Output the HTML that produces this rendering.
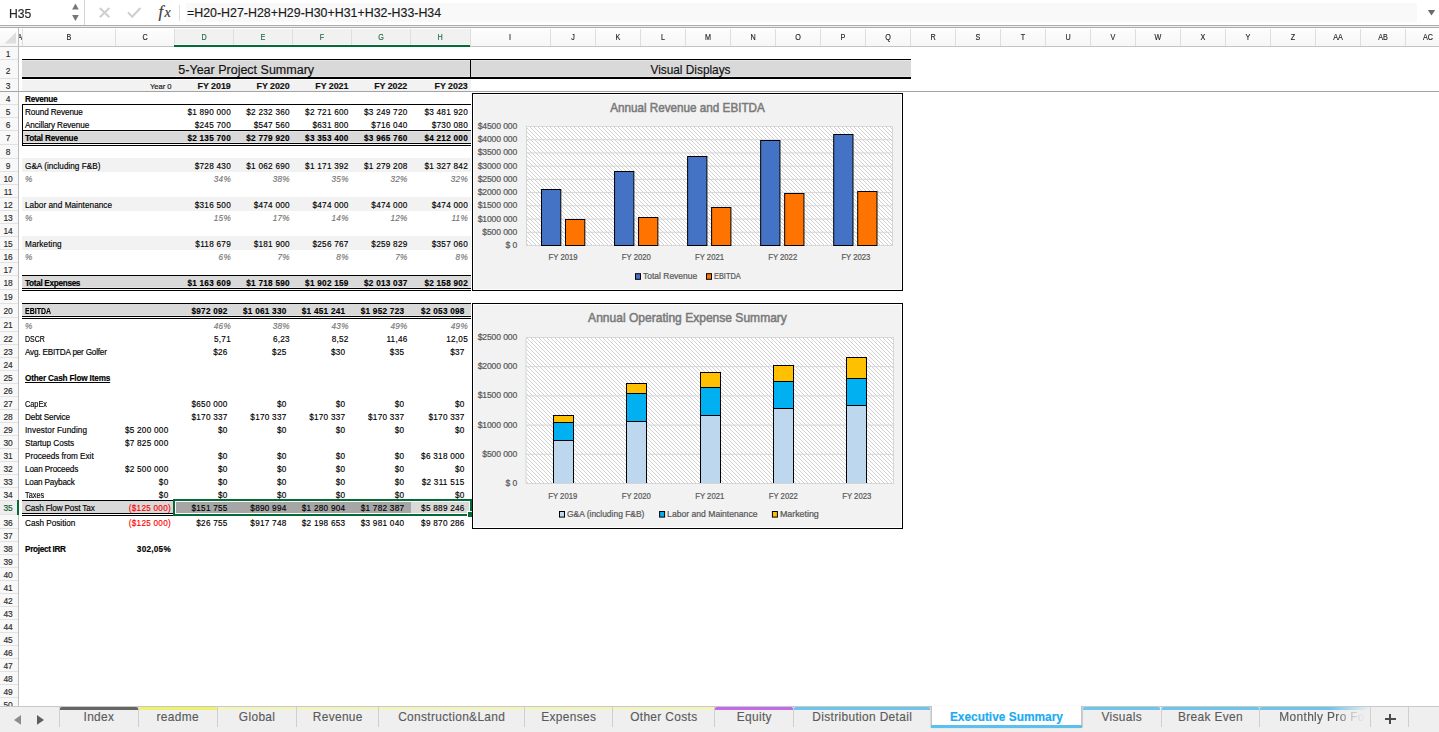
<!DOCTYPE html>
<html><head><meta charset="utf-8"><title>Executive Summary</title>
<style>
html,body{margin:0;padding:0;width:1439px;height:732px;overflow:hidden;background:#fff;}
body{position:relative;font-family:"Liberation Sans",sans-serif;color:#000;}
.a{position:absolute;}
.t,.u{position:absolute;white-space:nowrap;line-height:1;}
.t{-webkit-text-stroke:0.15px currentColor;}
svg text{font-family:"Liberation Sans",sans-serif;}
</style></head><body>
<div class="a" style="left:0px;top:0px;width:1439px;height:25px;background:#ffffff;"></div>
<div class="a" style="left:186px;top:3px;width:1231px;height:19px;background:#f9f9f9;"></div>
<div class="t" style="top:8px;font-size:12.8px;left:8.7px;color:#262626;transform:scaleX(0.95);transform-origin:0 0;">H35</div>
<svg class="a" style="left:70px;top:3px" width="12" height="18"><path d="M2.1 6.5 L5.45 0.6 L8.8 6.5 Z" fill="#777"/><path d="M2.1 11.9 L5.45 18.0 L8.8 11.9 Z" fill="#777"/></svg>
<div class="a" style="left:83.8px;top:0px;width:1px;height:25px;background:#d4d4d4;"></div>
<svg class="a" style="left:96px;top:4px" width="50" height="18"><path d="M3.8 4 L13.4 13.2 M13.4 4 L3.8 13.2" stroke="#cfcfcf" stroke-width="2" fill="none"/><path d="M32 8.4 L36.2 12.8 L44.4 4.0" stroke="#cfcfcf" stroke-width="2.1" fill="none"/></svg>
<svg class="a" style="left:150px;top:0px" width="30" height="25"><text x="8.6" y="17.2" style="font-family:'Liberation Serif',serif;font-style:italic" font-size="16.5" fill="#3c3c3c" stroke="#3c3c3c" stroke-width="0.2">f</text><text x="14.6" y="17.2" style="font-family:'Liberation Serif',serif;font-style:italic" font-size="14.2" fill="#3c3c3c" stroke="#3c3c3c" stroke-width="0.2">x</text></svg>
<div class="a" style="left:179.3px;top:5px;width:0.9px;height:16px;background:#dedede;"></div>
<div class="t" style="top:7px;font-size:12.4px;left:187px;color:#1a1a1a;">=H20-H27-H28+H29-H30+H31+H32-H33-H34</div>
<svg class="a" style="left:1426px;top:9px" width="11" height="8"><path d="M1.8 1 L9.2 1 L5.5 6.6 Z" fill="#6a6a6a"/></svg>
<div class="a" style="left:0px;top:25px;width:1439px;height:1px;background:#acacac;"></div>
<div class="a" style="left:0px;top:26px;width:1439px;height:1px;background:#efefef;"></div>
<div class="a" style="left:0px;top:27px;width:1439px;height:1px;background:#acacac;"></div>
<div class="a" style="left:0px;top:28px;width:1439px;height:18.5px;background:linear-gradient(#ffffff 0,#fdfdfd 1px,#f6f6f6);"></div>
<div class="a" style="left:174.2px;top:29px;width:296.2px;height:15px;background:#f1f1f1;"></div>
<div class="a" style="left:174.2px;top:44px;width:296.2px;height:1px;background:#fdfbfd;"></div>
<svg class="a" style="left:0;top:28px" width="18" height="18"><path d="M16 4.2 L16 15.6 L4.6 15.6 Z" fill="#dedede"/></svg>
<div class="a" style="left:18.2px;top:27.8px;width:0.9px;height:678.2px;background:#bdbdbd;"></div>
<div class="a" style="left:21.9px;top:28.5px;width:0.9px;height:17px;background:#dedede;"></div>
<div class="a" style="left:114.9px;top:28.5px;width:0.9px;height:17px;background:#dedede;"></div>
<div class="a" style="left:173.7px;top:28.5px;width:0.9px;height:17px;background:#dedede;"></div>
<div class="a" style="left:232.9px;top:28.5px;width:0.9px;height:17px;background:#dedede;"></div>
<div class="a" style="left:291.8px;top:28.5px;width:0.9px;height:17px;background:#dedede;"></div>
<div class="a" style="left:350.6px;top:28.5px;width:0.9px;height:17px;background:#dedede;"></div>
<div class="a" style="left:409.5px;top:28.5px;width:0.9px;height:17px;background:#dedede;"></div>
<div class="a" style="left:469.9px;top:28.5px;width:0.9px;height:17px;background:#dedede;"></div>
<div class="a" style="left:549.8px;top:28.5px;width:0.9px;height:17px;background:#dedede;"></div>
<div class="a" style="left:594.8px;top:28.5px;width:0.9px;height:17px;background:#dedede;"></div>
<div class="a" style="left:639.8px;top:28.5px;width:0.9px;height:17px;background:#dedede;"></div>
<div class="a" style="left:684.8px;top:28.5px;width:0.9px;height:17px;background:#dedede;"></div>
<div class="a" style="left:729.8px;top:28.5px;width:0.9px;height:17px;background:#dedede;"></div>
<div class="a" style="left:774.8px;top:28.5px;width:0.9px;height:17px;background:#dedede;"></div>
<div class="a" style="left:819.8px;top:28.5px;width:0.9px;height:17px;background:#dedede;"></div>
<div class="a" style="left:864.8px;top:28.5px;width:0.9px;height:17px;background:#dedede;"></div>
<div class="a" style="left:909.8px;top:28.5px;width:0.9px;height:17px;background:#dedede;"></div>
<div class="a" style="left:954.8px;top:28.5px;width:0.9px;height:17px;background:#dedede;"></div>
<div class="a" style="left:999.8px;top:28.5px;width:0.9px;height:17px;background:#dedede;"></div>
<div class="a" style="left:1044.8px;top:28.5px;width:0.9px;height:17px;background:#dedede;"></div>
<div class="a" style="left:1089.8px;top:28.5px;width:0.9px;height:17px;background:#dedede;"></div>
<div class="a" style="left:1134.8px;top:28.5px;width:0.9px;height:17px;background:#dedede;"></div>
<div class="a" style="left:1179.8px;top:28.5px;width:0.9px;height:17px;background:#dedede;"></div>
<div class="a" style="left:1224.8px;top:28.5px;width:0.9px;height:17px;background:#dedede;"></div>
<div class="a" style="left:1269.8px;top:28.5px;width:0.9px;height:17px;background:#dedede;"></div>
<div class="a" style="left:1314.8px;top:28.5px;width:0.9px;height:17px;background:#dedede;"></div>
<div class="a" style="left:1359.8px;top:28.5px;width:0.9px;height:17px;background:#dedede;"></div>
<div class="a" style="left:1404.8px;top:28.5px;width:0.9px;height:17px;background:#dedede;"></div>
<div class="a" style="left:19px;top:45.6px;width:1420px;height:1px;background:#c4c4c4;"></div>
<div class="a" style="left:0px;top:45.6px;width:18.5px;height:1px;background:#c4c4c4;"></div>
<div class="a" style="left:174.2px;top:45px;width:296.2px;height:2px;background:#056b35;"></div>
<div class="a" style="left:19.1px;top:28px;width:3.3px;height:17px;overflow:hidden;"><div class="t" style="left:-2.6px;top:5px;font-size:8.4px;color:#1e1e1e;transform:scaleX(0.86);">A</div></div>
<div class="t" style="top:33px;font-size:8.4px;left:-331.1px;width:800px;text-align:center;color:#1e1e1e;transform:scaleX(0.86);">B</div>
<div class="t" style="top:33px;font-size:8.4px;left:-255.2px;width:800px;text-align:center;color:#1e1e1e;transform:scaleX(0.86);">C</div>
<div class="t" style="top:33px;font-size:8.4px;left:-196.2px;width:800px;text-align:center;color:#1d6a3e;transform:scaleX(0.86);">D</div>
<div class="t" style="top:33px;font-size:8.4px;left:-137.15px;width:800px;text-align:center;color:#1d6a3e;transform:scaleX(0.86);">E</div>
<div class="t" style="top:33px;font-size:8.4px;left:-78.3px;width:800px;text-align:center;color:#1d6a3e;transform:scaleX(0.86);">F</div>
<div class="t" style="top:33px;font-size:8.4px;left:-19.45px;width:800px;text-align:center;color:#1d6a3e;transform:scaleX(0.86);">G</div>
<div class="t" style="top:33px;font-size:8.4px;left:40.2px;width:800px;text-align:center;color:#1d6a3e;transform:scaleX(0.86);">H</div>
<div class="t" style="top:33px;font-size:8.4px;left:110.35px;width:800px;text-align:center;color:#1e1e1e;transform:scaleX(0.86);">I</div>
<div class="t" style="top:33px;font-size:8.4px;left:172.8px;width:800px;text-align:center;color:#1e1e1e;transform:scaleX(0.86);">J</div>
<div class="t" style="top:33px;font-size:8.4px;left:217.8px;width:800px;text-align:center;color:#1e1e1e;transform:scaleX(0.86);">K</div>
<div class="t" style="top:33px;font-size:8.4px;left:262.8px;width:800px;text-align:center;color:#1e1e1e;transform:scaleX(0.86);">L</div>
<div class="t" style="top:33px;font-size:8.4px;left:307.8px;width:800px;text-align:center;color:#1e1e1e;transform:scaleX(0.86);">M</div>
<div class="t" style="top:33px;font-size:8.4px;left:352.8px;width:800px;text-align:center;color:#1e1e1e;transform:scaleX(0.86);">N</div>
<div class="t" style="top:33px;font-size:8.4px;left:397.8px;width:800px;text-align:center;color:#1e1e1e;transform:scaleX(0.86);">O</div>
<div class="t" style="top:33px;font-size:8.4px;left:442.8px;width:800px;text-align:center;color:#1e1e1e;transform:scaleX(0.86);">P</div>
<div class="t" style="top:33px;font-size:8.4px;left:487.8px;width:800px;text-align:center;color:#1e1e1e;transform:scaleX(0.86);">Q</div>
<div class="t" style="top:33px;font-size:8.4px;left:532.8px;width:800px;text-align:center;color:#1e1e1e;transform:scaleX(0.86);">R</div>
<div class="t" style="top:33px;font-size:8.4px;left:577.8px;width:800px;text-align:center;color:#1e1e1e;transform:scaleX(0.86);">S</div>
<div class="t" style="top:33px;font-size:8.4px;left:622.8px;width:800px;text-align:center;color:#1e1e1e;transform:scaleX(0.86);">T</div>
<div class="t" style="top:33px;font-size:8.4px;left:667.8px;width:800px;text-align:center;color:#1e1e1e;transform:scaleX(0.86);">U</div>
<div class="t" style="top:33px;font-size:8.4px;left:712.8px;width:800px;text-align:center;color:#1e1e1e;transform:scaleX(0.86);">V</div>
<div class="t" style="top:33px;font-size:8.4px;left:757.8px;width:800px;text-align:center;color:#1e1e1e;transform:scaleX(0.86);">W</div>
<div class="t" style="top:33px;font-size:8.4px;left:802.8px;width:800px;text-align:center;color:#1e1e1e;transform:scaleX(0.86);">X</div>
<div class="t" style="top:33px;font-size:8.4px;left:847.8px;width:800px;text-align:center;color:#1e1e1e;transform:scaleX(0.86);">Y</div>
<div class="t" style="top:33px;font-size:8.4px;left:892.8px;width:800px;text-align:center;color:#1e1e1e;transform:scaleX(0.86);">Z</div>
<div class="t" style="top:33px;font-size:8.4px;left:937.8px;width:800px;text-align:center;color:#1e1e1e;transform:scaleX(0.86);">AA</div>
<div class="t" style="top:33px;font-size:8.4px;left:982.8px;width:800px;text-align:center;color:#1e1e1e;transform:scaleX(0.86);">AB</div>
<div class="t" style="top:33px;font-size:8.4px;left:1027.8px;width:800px;text-align:center;color:#1e1e1e;transform:scaleX(0.86);">AC</div>
<div class="a" style="left:0px;top:46.6px;width:18.2px;height:659.4px;background:#f8f8f8;"></div>
<div class="a" style="left:0px;top:500.1px;width:18.2px;height:14.6px;background:#eeeeee;"></div>
<div class="a" style="left:0px;top:59.1px;width:18.2px;height:0.9px;background:#e2e2e2;"></div>
<div class="a" style="left:0px;top:77.9px;width:18.2px;height:0.9px;background:#e2e2e2;"></div>
<div class="a" style="left:0px;top:91px;width:18.2px;height:0.9px;background:#e2e2e2;"></div>
<div class="a" style="left:0px;top:104.1px;width:18.2px;height:0.9px;background:#e2e2e2;"></div>
<div class="a" style="left:0px;top:117.3px;width:18.2px;height:0.9px;background:#e2e2e2;"></div>
<div class="a" style="left:0px;top:130.1px;width:18.2px;height:0.9px;background:#e2e2e2;"></div>
<div class="a" style="left:0px;top:143.9px;width:18.2px;height:0.9px;background:#e2e2e2;"></div>
<div class="a" style="left:0px;top:157.9px;width:18.2px;height:0.9px;background:#e2e2e2;"></div>
<div class="a" style="left:0px;top:171.1px;width:18.2px;height:0.9px;background:#e2e2e2;"></div>
<div class="a" style="left:0px;top:184.2px;width:18.2px;height:0.9px;background:#e2e2e2;"></div>
<div class="a" style="left:0px;top:197px;width:18.2px;height:0.9px;background:#e2e2e2;"></div>
<div class="a" style="left:0px;top:210.1px;width:18.2px;height:0.9px;background:#e2e2e2;"></div>
<div class="a" style="left:0px;top:223.2px;width:18.2px;height:0.9px;background:#e2e2e2;"></div>
<div class="a" style="left:0px;top:235.9px;width:18.2px;height:0.9px;background:#e2e2e2;"></div>
<div class="a" style="left:0px;top:249px;width:18.2px;height:0.9px;background:#e2e2e2;"></div>
<div class="a" style="left:0px;top:261.8px;width:18.2px;height:0.9px;background:#e2e2e2;"></div>
<div class="a" style="left:0px;top:274.9px;width:18.2px;height:0.9px;background:#e2e2e2;"></div>
<div class="a" style="left:0px;top:288.8px;width:18.2px;height:0.9px;background:#e2e2e2;"></div>
<div class="a" style="left:0px;top:302.8px;width:18.2px;height:0.9px;background:#e2e2e2;"></div>
<div class="a" style="left:0px;top:316.7px;width:18.2px;height:0.9px;background:#e2e2e2;"></div>
<div class="a" style="left:0px;top:330.6px;width:18.2px;height:0.9px;background:#e2e2e2;"></div>
<div class="a" style="left:0px;top:343.8px;width:18.2px;height:0.9px;background:#e2e2e2;"></div>
<div class="a" style="left:0px;top:357px;width:18.2px;height:0.9px;background:#e2e2e2;"></div>
<div class="a" style="left:0px;top:369.7px;width:18.2px;height:0.9px;background:#e2e2e2;"></div>
<div class="a" style="left:0px;top:382.8px;width:18.2px;height:0.9px;background:#e2e2e2;"></div>
<div class="a" style="left:0px;top:395.9px;width:18.2px;height:0.9px;background:#e2e2e2;"></div>
<div class="a" style="left:0px;top:409px;width:18.2px;height:0.9px;background:#e2e2e2;"></div>
<div class="a" style="left:0px;top:421.7px;width:18.2px;height:0.9px;background:#e2e2e2;"></div>
<div class="a" style="left:0px;top:435px;width:18.2px;height:0.9px;background:#e2e2e2;"></div>
<div class="a" style="left:0px;top:447.9px;width:18.2px;height:0.9px;background:#e2e2e2;"></div>
<div class="a" style="left:0px;top:460.9px;width:18.2px;height:0.9px;background:#e2e2e2;"></div>
<div class="a" style="left:0px;top:474px;width:18.2px;height:0.9px;background:#e2e2e2;"></div>
<div class="a" style="left:0px;top:486.9px;width:18.2px;height:0.9px;background:#e2e2e2;"></div>
<div class="a" style="left:0px;top:499.6px;width:18.2px;height:0.9px;background:#e2e2e2;"></div>
<div class="a" style="left:0px;top:514.2px;width:18.2px;height:0.9px;background:#e2e2e2;"></div>
<div class="a" style="left:0px;top:528.3px;width:18.2px;height:0.9px;background:#e2e2e2;"></div>
<div class="a" style="left:0px;top:541px;width:18.2px;height:0.9px;background:#e2e2e2;"></div>
<div class="a" style="left:0px;top:554px;width:18.2px;height:0.9px;background:#e2e2e2;"></div>
<div class="a" style="left:0px;top:566.9px;width:18.2px;height:0.9px;background:#e2e2e2;"></div>
<div class="a" style="left:0px;top:580px;width:18.2px;height:0.9px;background:#e2e2e2;"></div>
<div class="a" style="left:0px;top:592.8px;width:18.2px;height:0.9px;background:#e2e2e2;"></div>
<div class="a" style="left:0px;top:605.9px;width:18.2px;height:0.9px;background:#e2e2e2;"></div>
<div class="a" style="left:0px;top:619px;width:18.2px;height:0.9px;background:#e2e2e2;"></div>
<div class="a" style="left:0px;top:631.9px;width:18.2px;height:0.9px;background:#e2e2e2;"></div>
<div class="a" style="left:0px;top:644.7px;width:18.2px;height:0.9px;background:#e2e2e2;"></div>
<div class="a" style="left:0px;top:657.9px;width:18.2px;height:0.9px;background:#e2e2e2;"></div>
<div class="a" style="left:0px;top:670.8px;width:18.2px;height:0.9px;background:#e2e2e2;"></div>
<div class="a" style="left:0px;top:683.7px;width:18.2px;height:0.9px;background:#e2e2e2;"></div>
<div class="a" style="left:0px;top:696.8px;width:18.2px;height:0.9px;background:#e2e2e2;"></div>
<div class="t" style="top:50px;font-size:8.4px;left:-391.9px;width:800px;text-align:center;color:#2b2b2b;">1</div>
<div class="t" style="top:67px;font-size:8.4px;left:-391.9px;width:800px;text-align:center;color:#2b2b2b;">2</div>
<div class="t" style="top:82px;font-size:8.4px;left:-391.9px;width:800px;text-align:center;color:#2b2b2b;">3</div>
<div class="t" style="top:95px;font-size:8.4px;left:-391.9px;width:800px;text-align:center;color:#2b2b2b;">4</div>
<div class="t" style="top:108px;font-size:8.4px;left:-391.9px;width:800px;text-align:center;color:#2b2b2b;">5</div>
<div class="t" style="top:121px;font-size:8.4px;left:-391.9px;width:800px;text-align:center;color:#2b2b2b;">6</div>
<div class="t" style="top:134px;font-size:8.4px;left:-391.9px;width:800px;text-align:center;color:#2b2b2b;">7</div>
<div class="t" style="top:148px;font-size:8.4px;left:-391.9px;width:800px;text-align:center;color:#2b2b2b;">8</div>
<div class="t" style="top:162px;font-size:8.4px;left:-391.9px;width:800px;text-align:center;color:#2b2b2b;">9</div>
<div class="t" style="top:175px;font-size:8.4px;left:-391.9px;width:800px;text-align:center;color:#2b2b2b;">10</div>
<div class="t" style="top:188px;font-size:8.4px;left:-391.9px;width:800px;text-align:center;color:#2b2b2b;">11</div>
<div class="t" style="top:201px;font-size:8.4px;left:-391.9px;width:800px;text-align:center;color:#2b2b2b;">12</div>
<div class="t" style="top:214px;font-size:8.4px;left:-391.9px;width:800px;text-align:center;color:#2b2b2b;">13</div>
<div class="t" style="top:227px;font-size:8.4px;left:-391.9px;width:800px;text-align:center;color:#2b2b2b;">14</div>
<div class="t" style="top:240px;font-size:8.4px;left:-391.9px;width:800px;text-align:center;color:#2b2b2b;">15</div>
<div class="t" style="top:253px;font-size:8.4px;left:-391.9px;width:800px;text-align:center;color:#2b2b2b;">16</div>
<div class="t" style="top:266px;font-size:8.4px;left:-391.9px;width:800px;text-align:center;color:#2b2b2b;">17</div>
<div class="t" style="top:279px;font-size:8.4px;left:-391.9px;width:800px;text-align:center;color:#2b2b2b;">18</div>
<div class="t" style="top:293px;font-size:8.4px;left:-391.9px;width:800px;text-align:center;color:#2b2b2b;">19</div>
<div class="t" style="top:307px;font-size:8.4px;left:-391.9px;width:800px;text-align:center;color:#2b2b2b;">20</div>
<div class="t" style="top:321px;font-size:8.4px;left:-391.9px;width:800px;text-align:center;color:#2b2b2b;">21</div>
<div class="t" style="top:335px;font-size:8.4px;left:-391.9px;width:800px;text-align:center;color:#2b2b2b;">22</div>
<div class="t" style="top:348px;font-size:8.4px;left:-391.9px;width:800px;text-align:center;color:#2b2b2b;">23</div>
<div class="t" style="top:361px;font-size:8.4px;left:-391.9px;width:800px;text-align:center;color:#2b2b2b;">24</div>
<div class="t" style="top:374px;font-size:8.4px;left:-391.9px;width:800px;text-align:center;color:#2b2b2b;">25</div>
<div class="t" style="top:387px;font-size:8.4px;left:-391.9px;width:800px;text-align:center;color:#2b2b2b;">26</div>
<div class="t" style="top:400px;font-size:8.4px;left:-391.9px;width:800px;text-align:center;color:#2b2b2b;">27</div>
<div class="t" style="top:413px;font-size:8.4px;left:-391.9px;width:800px;text-align:center;color:#2b2b2b;">28</div>
<div class="t" style="top:426px;font-size:8.4px;left:-391.9px;width:800px;text-align:center;color:#2b2b2b;">29</div>
<div class="t" style="top:439px;font-size:8.4px;left:-391.9px;width:800px;text-align:center;color:#2b2b2b;">30</div>
<div class="t" style="top:452px;font-size:8.4px;left:-391.9px;width:800px;text-align:center;color:#2b2b2b;">31</div>
<div class="t" style="top:465px;font-size:8.4px;left:-391.9px;width:800px;text-align:center;color:#2b2b2b;">32</div>
<div class="t" style="top:478px;font-size:8.4px;left:-391.9px;width:800px;text-align:center;color:#2b2b2b;">33</div>
<div class="t" style="top:491px;font-size:8.4px;left:-391.9px;width:800px;text-align:center;color:#2b2b2b;">34</div>
<div class="t" style="top:504px;font-size:8.4px;left:-391.9px;width:800px;text-align:center;color:#0d5c30;">35</div>
<div class="t" style="top:519px;font-size:8.4px;left:-391.9px;width:800px;text-align:center;color:#2b2b2b;">36</div>
<div class="t" style="top:532px;font-size:8.4px;left:-391.9px;width:800px;text-align:center;color:#2b2b2b;">37</div>
<div class="t" style="top:545px;font-size:8.4px;left:-391.9px;width:800px;text-align:center;color:#2b2b2b;">38</div>
<div class="t" style="top:558px;font-size:8.4px;left:-391.9px;width:800px;text-align:center;color:#2b2b2b;">39</div>
<div class="t" style="top:571px;font-size:8.4px;left:-391.9px;width:800px;text-align:center;color:#2b2b2b;">40</div>
<div class="t" style="top:584px;font-size:8.4px;left:-391.9px;width:800px;text-align:center;color:#2b2b2b;">41</div>
<div class="t" style="top:597px;font-size:8.4px;left:-391.9px;width:800px;text-align:center;color:#2b2b2b;">42</div>
<div class="t" style="top:610px;font-size:8.4px;left:-391.9px;width:800px;text-align:center;color:#2b2b2b;">43</div>
<div class="t" style="top:623px;font-size:8.4px;left:-391.9px;width:800px;text-align:center;color:#2b2b2b;">44</div>
<div class="t" style="top:636px;font-size:8.4px;left:-391.9px;width:800px;text-align:center;color:#2b2b2b;">45</div>
<div class="t" style="top:649px;font-size:8.4px;left:-391.9px;width:800px;text-align:center;color:#2b2b2b;">46</div>
<div class="t" style="top:662px;font-size:8.4px;left:-391.9px;width:800px;text-align:center;color:#2b2b2b;">47</div>
<div class="t" style="top:675px;font-size:8.4px;left:-391.9px;width:800px;text-align:center;color:#2b2b2b;">48</div>
<div class="t" style="top:688px;font-size:8.4px;left:-391.9px;width:800px;text-align:center;color:#2b2b2b;">49</div>
<div class="t" style="top:701px;font-size:8.4px;left:-391.9px;width:800px;text-align:center;color:#2b2b2b;">50</div>
<div class="a" style="left:17px;top:500px;width:2px;height:15px;background:#056b35;"></div>
<div class="a" style="left:22px;top:60px;width:449px;height:17px;background:#d9d9d9;"></div>
<div class="a" style="left:22px;top:60px;width:449px;height:1px;background:#e6e6e6;"></div>
<div class="a" style="left:22px;top:76px;width:449px;height:1px;background:#e6e6e6;"></div>
<div class="a" style="left:470px;top:60px;width:441.1px;height:17px;background:#d9d9d9;"></div>
<div class="a" style="left:470px;top:60px;width:441.1px;height:1px;background:#e6e6e6;"></div>
<div class="a" style="left:470px;top:76px;width:441.1px;height:1px;background:#e6e6e6;"></div>
<div class="a" style="left:22px;top:80px;width:448.6px;height:11px;background:#f2f2f2;"></div>
<div class="a" style="left:22px;top:131px;width:449px;height:12px;background:#d9d9d9;"></div>
<div class="a" style="left:22px;top:131px;width:449px;height:1px;background:#e4e4e4;"></div>
<div class="a" style="left:22px;top:142px;width:449px;height:1px;background:#e4e4e4;"></div>
<div class="a" style="left:22px;top:158px;width:448.6px;height:14px;background:#f2f2f2;"></div>
<div class="a" style="left:22px;top:197px;width:448.6px;height:14px;background:#f2f2f2;"></div>
<div class="a" style="left:22px;top:236px;width:448.6px;height:14px;background:#f2f2f2;"></div>
<div class="a" style="left:22px;top:276px;width:449px;height:12px;background:#d9d9d9;"></div>
<div class="a" style="left:22px;top:287px;width:449px;height:1px;background:#e4e4e4;"></div>
<div class="a" style="left:22px;top:304px;width:449px;height:12px;background:#d9d9d9;"></div>
<div class="a" style="left:22px;top:315px;width:449px;height:1px;background:#e4e4e4;"></div>
<div class="a" style="left:22px;top:501px;width:150.8px;height:12px;background:#d9d9d9;"></div>
<div class="a" style="left:175px;top:501px;width:295px;height:13px;background:#ffffff;"></div>
<div class="a" style="left:176px;top:502px;width:235px;height:11px;background:#a6a6a6;"></div>
<div class="a" style="left:411px;top:502px;width:58px;height:11px;background:#d9d9d9;"></div>
<div class="a" style="left:22px;top:59px;width:889.1px;height:1px;background:#000;"></div>
<div class="a" style="left:22px;top:77px;width:889.1px;height:2px;background:#000;"></div>
<div class="a" style="left:470px;top:59px;width:1px;height:20px;background:#000;"></div>
<div class="a" style="left:22px;top:104px;width:449px;height:1px;background:#000;"></div>
<div class="a" style="left:22px;top:104px;width:1px;height:42px;background:#000;"></div>
<div class="a" style="left:22px;top:130px;width:449px;height:1px;background:#000;"></div>
<div class="a" style="left:22px;top:143px;width:449px;height:1px;background:#000;"></div>
<div class="a" style="left:22px;top:145px;width:449px;height:1px;background:#000;"></div>
<div class="a" style="left:22px;top:275px;width:449px;height:1px;background:#000;"></div>
<div class="a" style="left:22px;top:288px;width:449px;height:1px;background:#000;"></div>
<div class="a" style="left:22px;top:290px;width:449px;height:1px;background:#000;"></div>
<div class="a" style="left:22px;top:303px;width:449px;height:1px;background:#000;"></div>
<div class="a" style="left:22px;top:316px;width:449px;height:1px;background:#000;"></div>
<div class="a" style="left:22px;top:318px;width:449px;height:1px;background:#000;"></div>
<div class="a" style="left:22px;top:500px;width:151.2px;height:1px;background:#000;"></div>
<div class="a" style="left:22px;top:513px;width:151.2px;height:1px;background:#000;"></div>
<div class="a" style="left:22px;top:515px;width:151.2px;height:1px;background:#000;"></div>
<div class="a" style="left:173px;top:499px;width:299px;height:2px;background:#056b35;"></div>
<div class="a" style="left:173px;top:499px;width:2px;height:17px;background:#056b35;"></div>
<div class="a" style="left:470px;top:499px;width:2px;height:12px;background:#056b35;"></div>
<div class="a" style="left:173px;top:514px;width:294px;height:2px;background:#056b35;"></div>
<div class="a" style="left:467px;top:511px;width:6px;height:7px;background:#ffffff;"></div>
<div class="a" style="left:468px;top:512px;width:4px;height:5px;background:#056b35;"></div>
<div class="a" style="left:0px;top:91px;width:1439px;height:1px;background:#a4a4a4;"></div>
<div class="t" style="top:64px;font-size:12.5px;left:-153.8px;width:800px;text-align:center;color:#111;">5-Year Project Summary</div>
<div class="t" style="top:65px;font-size:11.85px;left:290.5px;width:800px;text-align:center;color:#111;">Visual Displays</div>
<div class="t" style="top:83px;font-size:7.6px;right:1267.4px;text-align:right;color:#111;">Year 0</div>
<div class="t" style="top:82px;font-size:8.9px;right:1208.35px;text-align:right;font-weight:bold;color:#111;letter-spacing:-0.05px;">FY 2019</div>
<div class="t" style="top:82px;font-size:8.9px;right:1149.45px;text-align:right;font-weight:bold;color:#111;letter-spacing:-0.05px;">FY 2020</div>
<div class="t" style="top:82px;font-size:8.9px;right:1090.65px;text-align:right;font-weight:bold;color:#111;letter-spacing:-0.05px;">FY 2021</div>
<div class="t" style="top:82px;font-size:8.9px;right:1031.75px;text-align:right;font-weight:bold;color:#111;letter-spacing:-0.05px;">FY 2022</div>
<div class="t" style="top:82px;font-size:8.9px;right:971.35px;text-align:right;font-weight:bold;color:#111;letter-spacing:-0.05px;">FY 2023</div>
<div class="t" style="top:96px;font-size:8.2px;left:25px;font-weight:bold;letter-spacing:-0.25px;">Revenue</div>
<div class="t" style="top:109px;font-size:8.2px;left:25px;letter-spacing:-0.11px;">Round Revenue</div>
<div class="t" style="top:122px;font-size:8.2px;left:25px;letter-spacing:-0.11px;">Ancillary Revenue</div>
<div class="t" style="top:135px;font-size:8.2px;left:25px;font-weight:bold;letter-spacing:-0.2px;">Total Revenue</div>
<div class="t" style="top:163px;font-size:8.2px;left:25px;letter-spacing:0.02px;">G&amp;A (including F&amp;B)</div>
<div class="t" style="top:176px;font-size:8.2px;left:25px;font-style:italic;color:#767676;letter-spacing:-0.08px;">%</div>
<div class="t" style="top:202px;font-size:8.2px;left:25px;letter-spacing:0.05px;">Labor and Maintenance</div>
<div class="t" style="top:215px;font-size:8.2px;left:25px;font-style:italic;color:#767676;letter-spacing:-0.08px;">%</div>
<div class="t" style="top:241px;font-size:8.2px;left:25px;letter-spacing:0.09px;">Marketing</div>
<div class="t" style="top:254px;font-size:8.2px;left:25px;font-style:italic;color:#767676;letter-spacing:-0.08px;">%</div>
<div class="t" style="top:280px;font-size:8.2px;left:25px;font-weight:bold;letter-spacing:-0.31px;">Total Expenses</div>
<div class="t" style="top:308px;font-size:8.2px;left:25px;font-weight:bold;transform:scaleX(0.852);transform-origin:0 0;">EBITDA</div>
<div class="t" style="top:323px;font-size:8.2px;left:25px;font-style:italic;color:#767676;letter-spacing:-0.08px;">%</div>
<div class="t" style="top:336px;font-size:8.2px;left:25px;transform:scaleX(0.856);transform-origin:0 0;">DSCR</div>
<div class="t" style="top:349px;font-size:8.2px;left:25px;letter-spacing:-0.21px;">Avg. EBITDA per Golfer</div>
<div class="t" style="top:375px;font-size:8.2px;left:25px;font-weight:bold;letter-spacing:-0.17px;text-decoration:underline;text-underline-offset:1.2px;text-decoration-thickness:1px;">Other Cash Flow Items</div>
<div class="t" style="top:401px;font-size:8.2px;left:25px;transform:scaleX(0.894);transform-origin:0 0;">CapEx</div>
<div class="t" style="top:414px;font-size:8.2px;left:25px;letter-spacing:-0.17px;">Debt Service</div>
<div class="t" style="top:427px;font-size:8.2px;left:25px;letter-spacing:0.07px;">Investor Funding</div>
<div class="t" style="top:440px;font-size:8.2px;left:25px;letter-spacing:-0.05px;">Startup Costs</div>
<div class="t" style="top:453px;font-size:8.2px;left:25px;letter-spacing:-0.03px;">Proceeds from Exit</div>
<div class="t" style="top:466px;font-size:8.2px;left:25px;letter-spacing:-0.15px;">Loan Proceeds</div>
<div class="t" style="top:479px;font-size:8.2px;left:25px;letter-spacing:-0.19px;">Loan Payback</div>
<div class="t" style="top:492px;font-size:8.2px;left:25px;transform:scaleX(0.896);transform-origin:0 0;">Taxes</div>
<div class="t" style="top:505px;font-size:8.2px;left:25px;letter-spacing:-0.14px;">Cash Flow Post Tax</div>
<div class="t" style="top:520px;font-size:8.2px;left:25px;letter-spacing:-0.02px;">Cash Position</div>
<div class="t" style="top:546px;font-size:8.2px;left:25px;font-weight:bold;letter-spacing:-0.31px;">Project IRR</div>
<div class="t" style="top:109px;font-size:8.2px;right:1208.04px;text-align:right;letter-spacing:0.26px;">$1 890 000</div>
<div class="t" style="top:109px;font-size:8.2px;right:1149.14px;text-align:right;letter-spacing:0.26px;">$2 232 360</div>
<div class="t" style="top:109px;font-size:8.2px;right:1090.34px;text-align:right;letter-spacing:0.26px;">$2 721 600</div>
<div class="t" style="top:109px;font-size:8.2px;right:1031.44px;text-align:right;letter-spacing:0.26px;">$3 249 720</div>
<div class="t" style="top:109px;font-size:8.2px;right:971.04px;text-align:right;letter-spacing:0.26px;">$3 481 920</div>
<div class="t" style="top:122px;font-size:8.2px;right:1208.04px;text-align:right;letter-spacing:0.26px;">$245 700</div>
<div class="t" style="top:122px;font-size:8.2px;right:1149.14px;text-align:right;letter-spacing:0.26px;">$547 560</div>
<div class="t" style="top:122px;font-size:8.2px;right:1090.34px;text-align:right;letter-spacing:0.26px;">$631 800</div>
<div class="t" style="top:122px;font-size:8.2px;right:1031.44px;text-align:right;letter-spacing:0.26px;">$716 040</div>
<div class="t" style="top:122px;font-size:8.2px;right:971.04px;text-align:right;letter-spacing:0.26px;">$730 080</div>
<div class="t" style="top:135px;font-size:8.2px;right:1208.04px;text-align:right;font-weight:bold;letter-spacing:0.26px;">$2 135 700</div>
<div class="t" style="top:135px;font-size:8.2px;right:1149.14px;text-align:right;font-weight:bold;letter-spacing:0.26px;">$2 779 920</div>
<div class="t" style="top:135px;font-size:8.2px;right:1090.34px;text-align:right;font-weight:bold;letter-spacing:0.26px;">$3 353 400</div>
<div class="t" style="top:135px;font-size:8.2px;right:1031.44px;text-align:right;font-weight:bold;letter-spacing:0.26px;">$3 965 760</div>
<div class="t" style="top:135px;font-size:8.2px;right:971.04px;text-align:right;font-weight:bold;letter-spacing:0.26px;">$4 212 000</div>
<div class="t" style="top:163px;font-size:8.2px;right:1208.04px;text-align:right;letter-spacing:0.26px;">$728 430</div>
<div class="t" style="top:163px;font-size:8.2px;right:1149.14px;text-align:right;letter-spacing:0.26px;">$1 062 690</div>
<div class="t" style="top:163px;font-size:8.2px;right:1090.34px;text-align:right;letter-spacing:0.26px;">$1 171 392</div>
<div class="t" style="top:163px;font-size:8.2px;right:1031.44px;text-align:right;letter-spacing:0.26px;">$1 279 208</div>
<div class="t" style="top:163px;font-size:8.2px;right:971.04px;text-align:right;letter-spacing:0.26px;">$1 327 842</div>
<div class="t" style="top:176px;font-size:8.2px;right:1208.04px;text-align:right;font-style:italic;color:#767676;letter-spacing:0.26px;">34%</div>
<div class="t" style="top:176px;font-size:8.2px;right:1149.14px;text-align:right;font-style:italic;color:#767676;letter-spacing:0.26px;">38%</div>
<div class="t" style="top:176px;font-size:8.2px;right:1090.34px;text-align:right;font-style:italic;color:#767676;letter-spacing:0.26px;">35%</div>
<div class="t" style="top:176px;font-size:8.2px;right:1031.44px;text-align:right;font-style:italic;color:#767676;letter-spacing:0.26px;">32%</div>
<div class="t" style="top:176px;font-size:8.2px;right:971.04px;text-align:right;font-style:italic;color:#767676;letter-spacing:0.26px;">32%</div>
<div class="t" style="top:202px;font-size:8.2px;right:1208.04px;text-align:right;letter-spacing:0.26px;">$316 500</div>
<div class="t" style="top:202px;font-size:8.2px;right:1149.14px;text-align:right;letter-spacing:0.26px;">$474 000</div>
<div class="t" style="top:202px;font-size:8.2px;right:1090.34px;text-align:right;letter-spacing:0.26px;">$474 000</div>
<div class="t" style="top:202px;font-size:8.2px;right:1031.44px;text-align:right;letter-spacing:0.26px;">$474 000</div>
<div class="t" style="top:202px;font-size:8.2px;right:971.04px;text-align:right;letter-spacing:0.26px;">$474 000</div>
<div class="t" style="top:215px;font-size:8.2px;right:1208.04px;text-align:right;font-style:italic;color:#767676;letter-spacing:0.26px;">15%</div>
<div class="t" style="top:215px;font-size:8.2px;right:1149.14px;text-align:right;font-style:italic;color:#767676;letter-spacing:0.26px;">17%</div>
<div class="t" style="top:215px;font-size:8.2px;right:1090.34px;text-align:right;font-style:italic;color:#767676;letter-spacing:0.26px;">14%</div>
<div class="t" style="top:215px;font-size:8.2px;right:1031.44px;text-align:right;font-style:italic;color:#767676;letter-spacing:0.26px;">12%</div>
<div class="t" style="top:215px;font-size:8.2px;right:971.04px;text-align:right;font-style:italic;color:#767676;letter-spacing:0.26px;">11%</div>
<div class="t" style="top:241px;font-size:8.2px;right:1208.04px;text-align:right;letter-spacing:0.26px;">$118 679</div>
<div class="t" style="top:241px;font-size:8.2px;right:1149.14px;text-align:right;letter-spacing:0.26px;">$181 900</div>
<div class="t" style="top:241px;font-size:8.2px;right:1090.34px;text-align:right;letter-spacing:0.26px;">$256 767</div>
<div class="t" style="top:241px;font-size:8.2px;right:1031.44px;text-align:right;letter-spacing:0.26px;">$259 829</div>
<div class="t" style="top:241px;font-size:8.2px;right:971.04px;text-align:right;letter-spacing:0.26px;">$357 060</div>
<div class="t" style="top:254px;font-size:8.2px;right:1208.04px;text-align:right;font-style:italic;color:#767676;letter-spacing:0.26px;">6%</div>
<div class="t" style="top:254px;font-size:8.2px;right:1149.14px;text-align:right;font-style:italic;color:#767676;letter-spacing:0.26px;">7%</div>
<div class="t" style="top:254px;font-size:8.2px;right:1090.34px;text-align:right;font-style:italic;color:#767676;letter-spacing:0.26px;">8%</div>
<div class="t" style="top:254px;font-size:8.2px;right:1031.44px;text-align:right;font-style:italic;color:#767676;letter-spacing:0.26px;">7%</div>
<div class="t" style="top:254px;font-size:8.2px;right:971.04px;text-align:right;font-style:italic;color:#767676;letter-spacing:0.26px;">8%</div>
<div class="t" style="top:280px;font-size:8.2px;right:1208.04px;text-align:right;font-weight:bold;letter-spacing:0.26px;">$1 163 609</div>
<div class="t" style="top:280px;font-size:8.2px;right:1149.14px;text-align:right;font-weight:bold;letter-spacing:0.26px;">$1 718 590</div>
<div class="t" style="top:280px;font-size:8.2px;right:1090.34px;text-align:right;font-weight:bold;letter-spacing:0.26px;">$1 902 159</div>
<div class="t" style="top:280px;font-size:8.2px;right:1031.44px;text-align:right;font-weight:bold;letter-spacing:0.26px;">$2 013 037</div>
<div class="t" style="top:280px;font-size:8.2px;right:971.04px;text-align:right;font-weight:bold;letter-spacing:0.26px;">$2 158 902</div>
<div class="t" style="top:308px;font-size:8.2px;right:1211.34px;text-align:right;font-weight:bold;letter-spacing:0.26px;">$972 092</div>
<div class="t" style="top:308px;font-size:8.2px;right:1152.44px;text-align:right;font-weight:bold;letter-spacing:0.26px;">$1 061 330</div>
<div class="t" style="top:308px;font-size:8.2px;right:1093.64px;text-align:right;font-weight:bold;letter-spacing:0.26px;">$1 451 241</div>
<div class="t" style="top:308px;font-size:8.2px;right:1034.74px;text-align:right;font-weight:bold;letter-spacing:0.26px;">$1 952 723</div>
<div class="t" style="top:308px;font-size:8.2px;right:974.34px;text-align:right;font-weight:bold;letter-spacing:0.26px;">$2 053 098</div>
<div class="t" style="top:323px;font-size:8.2px;right:1208.04px;text-align:right;font-style:italic;color:#767676;letter-spacing:0.26px;">46%</div>
<div class="t" style="top:323px;font-size:8.2px;right:1149.14px;text-align:right;font-style:italic;color:#767676;letter-spacing:0.26px;">38%</div>
<div class="t" style="top:323px;font-size:8.2px;right:1090.34px;text-align:right;font-style:italic;color:#767676;letter-spacing:0.26px;">43%</div>
<div class="t" style="top:323px;font-size:8.2px;right:1031.44px;text-align:right;font-style:italic;color:#767676;letter-spacing:0.26px;">49%</div>
<div class="t" style="top:323px;font-size:8.2px;right:971.04px;text-align:right;font-style:italic;color:#767676;letter-spacing:0.26px;">49%</div>
<div class="t" style="top:336px;font-size:8.2px;right:1208.04px;text-align:right;letter-spacing:0.26px;">5,71</div>
<div class="t" style="top:336px;font-size:8.2px;right:1149.14px;text-align:right;letter-spacing:0.26px;">6,23</div>
<div class="t" style="top:336px;font-size:8.2px;right:1090.34px;text-align:right;letter-spacing:0.26px;">8,52</div>
<div class="t" style="top:336px;font-size:8.2px;right:1031.44px;text-align:right;letter-spacing:0.26px;">11,46</div>
<div class="t" style="top:336px;font-size:8.2px;right:971.04px;text-align:right;letter-spacing:0.26px;">12,05</div>
<div class="t" style="top:349px;font-size:8.2px;right:1211.34px;text-align:right;letter-spacing:0.26px;">$26</div>
<div class="t" style="top:349px;font-size:8.2px;right:1152.44px;text-align:right;letter-spacing:0.26px;">$25</div>
<div class="t" style="top:349px;font-size:8.2px;right:1093.64px;text-align:right;letter-spacing:0.26px;">$30</div>
<div class="t" style="top:349px;font-size:8.2px;right:1034.74px;text-align:right;letter-spacing:0.26px;">$35</div>
<div class="t" style="top:349px;font-size:8.2px;right:974.34px;text-align:right;letter-spacing:0.26px;">$37</div>
<div class="t" style="top:401px;font-size:8.2px;right:1211.34px;text-align:right;letter-spacing:0.26px;">$650 000</div>
<div class="t" style="top:401px;font-size:8.2px;right:1152.44px;text-align:right;letter-spacing:0.26px;">$0</div>
<div class="t" style="top:401px;font-size:8.2px;right:1093.64px;text-align:right;letter-spacing:0.26px;">$0</div>
<div class="t" style="top:401px;font-size:8.2px;right:1034.74px;text-align:right;letter-spacing:0.26px;">$0</div>
<div class="t" style="top:401px;font-size:8.2px;right:974.34px;text-align:right;letter-spacing:0.26px;">$0</div>
<div class="t" style="top:414px;font-size:8.2px;right:1211.34px;text-align:right;letter-spacing:0.26px;">$170 337</div>
<div class="t" style="top:414px;font-size:8.2px;right:1152.44px;text-align:right;letter-spacing:0.26px;">$170 337</div>
<div class="t" style="top:414px;font-size:8.2px;right:1093.64px;text-align:right;letter-spacing:0.26px;">$170 337</div>
<div class="t" style="top:414px;font-size:8.2px;right:1034.74px;text-align:right;letter-spacing:0.26px;">$170 337</div>
<div class="t" style="top:414px;font-size:8.2px;right:974.34px;text-align:right;letter-spacing:0.26px;">$170 337</div>
<div class="t" style="top:427px;font-size:8.2px;right:1211.34px;text-align:right;letter-spacing:0.26px;">$0</div>
<div class="t" style="top:427px;font-size:8.2px;right:1152.44px;text-align:right;letter-spacing:0.26px;">$0</div>
<div class="t" style="top:427px;font-size:8.2px;right:1093.64px;text-align:right;letter-spacing:0.26px;">$0</div>
<div class="t" style="top:427px;font-size:8.2px;right:1034.74px;text-align:right;letter-spacing:0.26px;">$0</div>
<div class="t" style="top:427px;font-size:8.2px;right:974.34px;text-align:right;letter-spacing:0.26px;">$0</div>
<div class="t" style="top:453px;font-size:8.2px;right:1211.34px;text-align:right;letter-spacing:0.26px;">$0</div>
<div class="t" style="top:453px;font-size:8.2px;right:1152.44px;text-align:right;letter-spacing:0.26px;">$0</div>
<div class="t" style="top:453px;font-size:8.2px;right:1093.64px;text-align:right;letter-spacing:0.26px;">$0</div>
<div class="t" style="top:453px;font-size:8.2px;right:1034.74px;text-align:right;letter-spacing:0.26px;">$0</div>
<div class="t" style="top:453px;font-size:8.2px;right:974.34px;text-align:right;letter-spacing:0.26px;">$6 318 000</div>
<div class="t" style="top:466px;font-size:8.2px;right:1211.34px;text-align:right;letter-spacing:0.26px;">$0</div>
<div class="t" style="top:466px;font-size:8.2px;right:1152.44px;text-align:right;letter-spacing:0.26px;">$0</div>
<div class="t" style="top:466px;font-size:8.2px;right:1093.64px;text-align:right;letter-spacing:0.26px;">$0</div>
<div class="t" style="top:466px;font-size:8.2px;right:1034.74px;text-align:right;letter-spacing:0.26px;">$0</div>
<div class="t" style="top:466px;font-size:8.2px;right:974.34px;text-align:right;letter-spacing:0.26px;">$0</div>
<div class="t" style="top:479px;font-size:8.2px;right:1211.34px;text-align:right;letter-spacing:0.26px;">$0</div>
<div class="t" style="top:479px;font-size:8.2px;right:1152.44px;text-align:right;letter-spacing:0.26px;">$0</div>
<div class="t" style="top:479px;font-size:8.2px;right:1093.64px;text-align:right;letter-spacing:0.26px;">$0</div>
<div class="t" style="top:479px;font-size:8.2px;right:1034.74px;text-align:right;letter-spacing:0.26px;">$0</div>
<div class="t" style="top:479px;font-size:8.2px;right:974.34px;text-align:right;letter-spacing:0.26px;">$2 311 515</div>
<div class="t" style="top:492px;font-size:8.2px;right:1211.34px;text-align:right;letter-spacing:0.26px;">$0</div>
<div class="t" style="top:492px;font-size:8.2px;right:1152.44px;text-align:right;letter-spacing:0.26px;">$0</div>
<div class="t" style="top:492px;font-size:8.2px;right:1093.64px;text-align:right;letter-spacing:0.26px;">$0</div>
<div class="t" style="top:492px;font-size:8.2px;right:1034.74px;text-align:right;letter-spacing:0.26px;">$0</div>
<div class="t" style="top:492px;font-size:8.2px;right:974.34px;text-align:right;letter-spacing:0.26px;">$0</div>
<div class="t" style="top:505px;font-size:8.2px;right:1211.34px;text-align:right;letter-spacing:0.26px;">$151 755</div>
<div class="t" style="top:505px;font-size:8.2px;right:1152.44px;text-align:right;letter-spacing:0.26px;">$890 994</div>
<div class="t" style="top:505px;font-size:8.2px;right:1093.64px;text-align:right;letter-spacing:0.26px;">$1 280 904</div>
<div class="t" style="top:505px;font-size:8.2px;right:1034.74px;text-align:right;letter-spacing:0.26px;">$1 782 387</div>
<div class="t" style="top:505px;font-size:8.2px;right:974.34px;text-align:right;letter-spacing:0.26px;">$5 889 246</div>
<div class="t" style="top:520px;font-size:8.2px;right:1211.34px;text-align:right;letter-spacing:0.26px;">$26 755</div>
<div class="t" style="top:520px;font-size:8.2px;right:1152.44px;text-align:right;letter-spacing:0.26px;">$917 748</div>
<div class="t" style="top:520px;font-size:8.2px;right:1093.64px;text-align:right;letter-spacing:0.26px;">$2 198 653</div>
<div class="t" style="top:520px;font-size:8.2px;right:1034.74px;text-align:right;letter-spacing:0.26px;">$3 981 040</div>
<div class="t" style="top:520px;font-size:8.2px;right:974.34px;text-align:right;letter-spacing:0.26px;">$9 870 286</div>
<div class="t" style="top:427px;font-size:8.2px;right:1270.54px;text-align:right;letter-spacing:0.26px;">$5 200 000</div>
<div class="t" style="top:440px;font-size:8.2px;right:1270.54px;text-align:right;letter-spacing:0.26px;">$7 825 000</div>
<div class="t" style="top:466px;font-size:8.2px;right:1270.54px;text-align:right;letter-spacing:0.26px;">$2 500 000</div>
<div class="t" style="top:479px;font-size:8.2px;right:1270.54px;text-align:right;letter-spacing:0.26px;">$0</div>
<div class="t" style="top:492px;font-size:8.2px;right:1270.54px;text-align:right;letter-spacing:0.26px;">$0</div>
<div class="t" style="top:505px;font-size:8.2px;right:1268.04px;text-align:right;color:#ff0000;letter-spacing:0.26px;">($125 000)</div>
<div class="t" style="top:520px;font-size:8.2px;right:1268.04px;text-align:right;color:#ff0000;letter-spacing:0.26px;">($125 000)</div>
<div class="t" style="top:546px;font-size:8.2px;right:1268.04px;text-align:right;font-weight:bold;letter-spacing:0.26px;">302,05%</div>
<svg class="a" style="left:472px;top:93px;overflow:visible" width="431" height="198" viewBox="0 0 431 198"><defs><pattern id="h1" patternUnits="userSpaceOnUse" width="4" height="4" x="0" y="0">
<rect width="4" height="4" fill="#ffffff"/><path d="M-1 -1 L5 5 M-1 3 L1 5 M3 -1 L5 1" stroke="#cfcfcf" stroke-width="0.95"/></pattern></defs><rect x="0.5" y="0.5" width="430" height="197" fill="#ffffff" stroke="#000" stroke-width="1"/><rect x="2" y="2" width="427" height="194" fill="#f2f2f2"/><rect x="54.5" y="33.5" width="366" height="119" fill="url(#h1)" stroke="#d6d6d6" stroke-width="1"/><line x1="54.5" x2="420.5" y1="152.5" y2="152.5" stroke="#d6d6d6" stroke-width="1"/><line x1="54.5" x2="420.5" y1="139.28" y2="139.28" stroke="#d6d6d6" stroke-width="1"/><line x1="54.5" x2="420.5" y1="126.06" y2="126.06" stroke="#d6d6d6" stroke-width="1"/><line x1="54.5" x2="420.5" y1="112.83" y2="112.83" stroke="#d6d6d6" stroke-width="1"/><line x1="54.5" x2="420.5" y1="99.61" y2="99.61" stroke="#d6d6d6" stroke-width="1"/><line x1="54.5" x2="420.5" y1="86.39" y2="86.39" stroke="#d6d6d6" stroke-width="1"/><line x1="54.5" x2="420.5" y1="73.17" y2="73.17" stroke="#d6d6d6" stroke-width="1"/><line x1="54.5" x2="420.5" y1="59.94" y2="59.94" stroke="#d6d6d6" stroke-width="1"/><line x1="54.5" x2="420.5" y1="46.72" y2="46.72" stroke="#d6d6d6" stroke-width="1"/><line x1="54.5" x2="420.5" y1="33.5" y2="33.5" stroke="#d6d6d6" stroke-width="1"/><text x="45.2" y="155" font-size="8.6" fill="#595959" stroke="#595959" stroke-width="0.22" text-anchor="end" letter-spacing="-0.12">$ 0</text><text x="45.2" y="141.78" font-size="8.6" fill="#595959" stroke="#595959" stroke-width="0.22" text-anchor="end" letter-spacing="-0.12">$500 000</text><text x="45.2" y="128.56" font-size="8.6" fill="#595959" stroke="#595959" stroke-width="0.22" text-anchor="end" letter-spacing="-0.12">$1000 000</text><text x="45.2" y="115.33" font-size="8.6" fill="#595959" stroke="#595959" stroke-width="0.22" text-anchor="end" letter-spacing="-0.12">$1500 000</text><text x="45.2" y="102.11" font-size="8.6" fill="#595959" stroke="#595959" stroke-width="0.22" text-anchor="end" letter-spacing="-0.12">$2000 000</text><text x="45.2" y="88.89" font-size="8.6" fill="#595959" stroke="#595959" stroke-width="0.22" text-anchor="end" letter-spacing="-0.12">$2500 000</text><text x="45.2" y="75.67" font-size="8.6" fill="#595959" stroke="#595959" stroke-width="0.22" text-anchor="end" letter-spacing="-0.12">$3000 000</text><text x="45.2" y="62.44" font-size="8.6" fill="#595959" stroke="#595959" stroke-width="0.22" text-anchor="end" letter-spacing="-0.12">$3500 000</text><text x="45.2" y="49.22" font-size="8.6" fill="#595959" stroke="#595959" stroke-width="0.22" text-anchor="end" letter-spacing="-0.12">$4000 000</text><text x="45.2" y="36" font-size="8.6" fill="#595959" stroke="#595959" stroke-width="0.22" text-anchor="end" letter-spacing="-0.12">$4500 000</text><rect x="69.5" y="96.5" width="19.3" height="56" fill="#4472c4" stroke="#000" stroke-width="1"/><rect x="93.5" y="126.5" width="19.3" height="26" fill="#ff7300" stroke="#000" stroke-width="1"/><text x="76.6" y="166.9" font-size="8.5" fill="#595959" stroke="#595959" stroke-width="0.22" text-anchor="start" textLength="29" lengthAdjust="spacingAndGlyphs">FY 2019</text><rect x="142.55" y="78.5" width="19.3" height="74" fill="#4472c4" stroke="#000" stroke-width="1"/><rect x="166.55" y="124.5" width="19.3" height="28" fill="#ff7300" stroke="#000" stroke-width="1"/><text x="149.8" y="166.9" font-size="8.5" fill="#595959" stroke="#595959" stroke-width="0.22" text-anchor="start" textLength="29" lengthAdjust="spacingAndGlyphs">FY 2020</text><rect x="215.6" y="63.5" width="19.3" height="89" fill="#4472c4" stroke="#000" stroke-width="1"/><rect x="239.6" y="114.5" width="19.3" height="38" fill="#ff7300" stroke="#000" stroke-width="1"/><text x="223" y="166.9" font-size="8.5" fill="#595959" stroke="#595959" stroke-width="0.22" text-anchor="start" textLength="29" lengthAdjust="spacingAndGlyphs">FY 2021</text><rect x="288.65" y="47.5" width="19.3" height="105" fill="#4472c4" stroke="#000" stroke-width="1"/><rect x="312.65" y="100.5" width="19.3" height="52" fill="#ff7300" stroke="#000" stroke-width="1"/><text x="296.2" y="166.9" font-size="8.5" fill="#595959" stroke="#595959" stroke-width="0.22" text-anchor="start" textLength="29" lengthAdjust="spacingAndGlyphs">FY 2022</text><rect x="361.7" y="41.5" width="19.3" height="111" fill="#4472c4" stroke="#000" stroke-width="1"/><rect x="385.7" y="98.5" width="19.3" height="54" fill="#ff7300" stroke="#000" stroke-width="1"/><text x="369.4" y="166.9" font-size="8.5" fill="#595959" stroke="#595959" stroke-width="0.22" text-anchor="start" textLength="29" lengthAdjust="spacingAndGlyphs">FY 2023</text><text x="215.5" y="18.9" font-size="13.5" fill="#7a7a7a" stroke="#7a7a7a" stroke-width="0.55" text-anchor="middle" textLength="154.7" lengthAdjust="spacingAndGlyphs">Annual Revenue and EBITDA</text><rect x="163.5" y="180.7" width="5" height="5.6" fill="#4472c4" stroke="#000" stroke-width="1"/><text x="171" y="186.2" font-size="8.3" fill="#595959" stroke="#595959" stroke-width="0.22" text-anchor="start" textLength="54.2" lengthAdjust="spacingAndGlyphs">Total Revenue</text><rect x="234.5" y="180.7" width="5" height="5.6" fill="#ff7300" stroke="#000" stroke-width="1"/><text x="242" y="186.2" font-size="8.3" fill="#595959" stroke="#595959" stroke-width="0.22" text-anchor="start" textLength="26.7" lengthAdjust="spacingAndGlyphs">EBITDA</text></svg>
<svg class="a" style="left:472px;top:303px;overflow:visible" width="431" height="226" viewBox="0 0 431 226"><defs><pattern id="h2" patternUnits="userSpaceOnUse" width="4" height="4" x="0" y="0">
<rect width="4" height="4" fill="#ffffff"/><path d="M-1 -1 L5 5 M-1 3 L1 5 M3 -1 L5 1" stroke="#cfcfcf" stroke-width="0.95"/></pattern></defs><rect x="0.5" y="0.5" width="430" height="225" fill="#ffffff" stroke="#000" stroke-width="1"/><rect x="2" y="2" width="427" height="222" fill="#f2f2f2"/><rect x="54" y="34.5" width="367.5" height="146" fill="url(#h2)" stroke="#d6d6d6" stroke-width="1"/><line x1="54" x2="421.5" y1="180.5" y2="180.5" stroke="#d6d6d6" stroke-width="1"/><line x1="54" x2="421.5" y1="151.3" y2="151.3" stroke="#d6d6d6" stroke-width="1"/><line x1="54" x2="421.5" y1="122.1" y2="122.1" stroke="#d6d6d6" stroke-width="1"/><line x1="54" x2="421.5" y1="92.9" y2="92.9" stroke="#d6d6d6" stroke-width="1"/><line x1="54" x2="421.5" y1="63.7" y2="63.7" stroke="#d6d6d6" stroke-width="1"/><line x1="54" x2="421.5" y1="34.5" y2="34.5" stroke="#d6d6d6" stroke-width="1"/><text x="45.2" y="183" font-size="8.6" fill="#595959" stroke="#595959" stroke-width="0.22" text-anchor="end" letter-spacing="-0.12">$ 0</text><text x="45.2" y="153.8" font-size="8.6" fill="#595959" stroke="#595959" stroke-width="0.22" text-anchor="end" letter-spacing="-0.12">$500 000</text><text x="45.2" y="124.6" font-size="8.6" fill="#595959" stroke="#595959" stroke-width="0.22" text-anchor="end" letter-spacing="-0.12">$1000 000</text><text x="45.2" y="95.4" font-size="8.6" fill="#595959" stroke="#595959" stroke-width="0.22" text-anchor="end" letter-spacing="-0.12">$1500 000</text><text x="45.2" y="66.2" font-size="8.6" fill="#595959" stroke="#595959" stroke-width="0.22" text-anchor="end" letter-spacing="-0.12">$2000 000</text><text x="45.2" y="37" font-size="8.6" fill="#595959" stroke="#595959" stroke-width="0.22" text-anchor="end" letter-spacing="-0.12">$2500 000</text><rect x="81.5" y="137.5" width="20" height="43" fill="#bdd7ee" stroke="#000" stroke-width="1"/><rect x="81.5" y="119.5" width="20" height="18" fill="#00b0f0" stroke="#000" stroke-width="1"/><rect x="81.5" y="112.5" width="20" height="7" fill="#ffc000" stroke="#000" stroke-width="1"/><text x="76.25" y="196" font-size="8.5" fill="#595959" stroke="#595959" stroke-width="0.22" text-anchor="start" textLength="29" lengthAdjust="spacingAndGlyphs">FY 2019</text><rect x="154.5" y="118.5" width="20" height="62" fill="#bdd7ee" stroke="#000" stroke-width="1"/><rect x="154.5" y="90.5" width="20" height="28" fill="#00b0f0" stroke="#000" stroke-width="1"/><rect x="154.5" y="80.5" width="20" height="10" fill="#ffc000" stroke="#000" stroke-width="1"/><text x="149.75" y="196" font-size="8.5" fill="#595959" stroke="#595959" stroke-width="0.22" text-anchor="start" textLength="29" lengthAdjust="spacingAndGlyphs">FY 2020</text><rect x="228.5" y="112.5" width="20" height="68" fill="#bdd7ee" stroke="#000" stroke-width="1"/><rect x="228.5" y="84.5" width="20" height="28" fill="#00b0f0" stroke="#000" stroke-width="1"/><rect x="228.5" y="69.5" width="20" height="15" fill="#ffc000" stroke="#000" stroke-width="1"/><text x="223.25" y="196" font-size="8.5" fill="#595959" stroke="#595959" stroke-width="0.22" text-anchor="start" textLength="29" lengthAdjust="spacingAndGlyphs">FY 2021</text><rect x="301.5" y="105.5" width="20" height="75" fill="#bdd7ee" stroke="#000" stroke-width="1"/><rect x="301.5" y="78.5" width="20" height="27" fill="#00b0f0" stroke="#000" stroke-width="1"/><rect x="301.5" y="62.5" width="20" height="16" fill="#ffc000" stroke="#000" stroke-width="1"/><text x="296.75" y="196" font-size="8.5" fill="#595959" stroke="#595959" stroke-width="0.22" text-anchor="start" textLength="29" lengthAdjust="spacingAndGlyphs">FY 2022</text><rect x="374.5" y="102.5" width="20" height="78" fill="#bdd7ee" stroke="#000" stroke-width="1"/><rect x="374.5" y="75.5" width="20" height="27" fill="#00b0f0" stroke="#000" stroke-width="1"/><rect x="374.5" y="54.5" width="20" height="21" fill="#ffc000" stroke="#000" stroke-width="1"/><text x="370.25" y="196" font-size="8.5" fill="#595959" stroke="#595959" stroke-width="0.22" text-anchor="start" textLength="29" lengthAdjust="spacingAndGlyphs">FY 2023</text><line x1="54" x2="421.5" y1="180.5" y2="180.5" stroke="#d6d6d6" stroke-width="1.2"/><text x="215.5" y="18.8" font-size="13.6" fill="#7a7a7a" stroke="#7a7a7a" stroke-width="0.55" text-anchor="middle" textLength="198.8" lengthAdjust="spacingAndGlyphs">Annual Operating Expense Summary</text><rect x="87.5" y="208.5" width="5" height="5.6" fill="#bdd7ee" stroke="#000" stroke-width="1"/><text x="95" y="214" font-size="8.3" fill="#595959" stroke="#595959" stroke-width="0.22" text-anchor="start" textLength="77.4" lengthAdjust="spacingAndGlyphs">G&amp;A (including F&amp;B)</text><rect x="187.6" y="208.5" width="5" height="5.6" fill="#00b0f0" stroke="#000" stroke-width="1"/><text x="195.1" y="214" font-size="8.3" fill="#595959" stroke="#595959" stroke-width="0.22" text-anchor="start" textLength="90.4" lengthAdjust="spacingAndGlyphs">Labor and Maintenance</text><rect x="300.4" y="208.5" width="5" height="5.6" fill="#ffc000" stroke="#000" stroke-width="1"/><text x="307.9" y="214" font-size="8.3" fill="#595959" stroke="#595959" stroke-width="0.22" text-anchor="start" textLength="38.9" lengthAdjust="spacingAndGlyphs">Marketing</text></svg>
<div class="a" style="left:0px;top:706px;width:1439px;height:26px;background:#efefef;"></div>
<div class="a" style="left:0px;top:706px;width:1439px;height:1px;background:#c8c8c8;"></div>
<svg class="a" style="left:12px;top:713px" width="36" height="14"><path d="M9 2 L9 11.8 L2 6.9 Z" fill="#8c8c8c"/><path d="M25 2 L25 11.8 L32 6.9 Z" fill="#5e5e5e"/></svg>
<div class="a" style="left:60px;top:706.5px;width:77.5px;height:3.5px;background:#666666;border-radius:1.5px 1.5px 0 0;"></div>
<div class="a" style="left:59px;top:706.5px;width:1px;height:20.8px;background:#cfcfcf;"></div>
<div class="t" style="top:712px;font-size:11.9px;left:-301.08px;width:800px;text-align:center;color:#5b5b5b;letter-spacing:0.35px;">Index</div>
<div class="a" style="left:138.5px;top:706.5px;width:78.2px;height:3.5px;background:#eef26a;border-radius:1.5px 1.5px 0 0;"></div>
<div class="a" style="left:137.5px;top:706.5px;width:1px;height:20.8px;background:#cfcfcf;"></div>
<div class="t" style="top:712px;font-size:11.9px;left:-222.23px;width:800px;text-align:center;color:#5b5b5b;letter-spacing:0.35px;">readme</div>
<div class="a" style="left:217.7px;top:706.5px;width:78.4px;height:3.5px;background:#f3f5bd;border-radius:1.5px 1.5px 0 0;"></div>
<div class="a" style="left:216.7px;top:706.5px;width:1px;height:20.8px;background:#cfcfcf;"></div>
<div class="t" style="top:712px;font-size:11.9px;left:-142.93px;width:800px;text-align:center;color:#5b5b5b;letter-spacing:0.35px;">Global</div>
<div class="a" style="left:297.1px;top:706.5px;width:81px;height:3.5px;background:#f3f5bd;border-radius:1.5px 1.5px 0 0;"></div>
<div class="a" style="left:296.1px;top:706.5px;width:1px;height:20.8px;background:#cfcfcf;"></div>
<div class="t" style="top:712px;font-size:11.9px;left:-62.23px;width:800px;text-align:center;color:#5b5b5b;letter-spacing:0.35px;">Revenue</div>
<div class="a" style="left:379.1px;top:706.5px;width:144.9px;height:3.5px;background:#f3f5bd;border-radius:1.5px 1.5px 0 0;"></div>
<div class="a" style="left:378.1px;top:706.5px;width:1px;height:20.8px;background:#cfcfcf;"></div>
<div class="t" style="top:712px;font-size:11.9px;left:51.72px;width:800px;text-align:center;color:#5b5b5b;letter-spacing:0.35px;">Construction&amp;Land</div>
<div class="a" style="left:525px;top:706.5px;width:87.1px;height:3.5px;background:#f3f5bd;border-radius:1.5px 1.5px 0 0;"></div>
<div class="a" style="left:524px;top:706.5px;width:1px;height:20.8px;background:#cfcfcf;"></div>
<div class="t" style="top:712px;font-size:11.9px;left:168.72px;width:800px;text-align:center;color:#5b5b5b;letter-spacing:0.35px;">Expenses</div>
<div class="a" style="left:613.1px;top:706.5px;width:101.1px;height:3.5px;background:#f3f5bd;border-radius:1.5px 1.5px 0 0;"></div>
<div class="a" style="left:612.1px;top:706.5px;width:1px;height:20.8px;background:#cfcfcf;"></div>
<div class="t" style="top:712px;font-size:11.9px;left:263.82px;width:800px;text-align:center;color:#5b5b5b;letter-spacing:0.35px;">Other Costs</div>
<div class="a" style="left:715.2px;top:706.5px;width:77.8px;height:3.5px;background:#c46ae6;border-radius:1.5px 1.5px 0 0;"></div>
<div class="a" style="left:714.2px;top:706.5px;width:1px;height:20.8px;background:#cfcfcf;"></div>
<div class="t" style="top:712px;font-size:11.9px;left:354.27px;width:800px;text-align:center;color:#5b5b5b;letter-spacing:0.35px;">Equity</div>
<div class="a" style="left:794px;top:706.5px;width:136.1px;height:3.5px;background:#6cc5ee;border-radius:1.5px 1.5px 0 0;"></div>
<div class="a" style="left:793px;top:706.5px;width:1px;height:20.8px;background:#cfcfcf;"></div>
<div class="t" style="top:712px;font-size:11.9px;left:462.22px;width:800px;text-align:center;color:#5b5b5b;letter-spacing:0.35px;">Distribution Detail</div>
<div class="a" style="left:930.6px;top:706px;width:151.6px;height:22px;background:#fff;border-left:1px solid #c4c4c4;border-right:1px solid #c4c4c4;box-sizing:border-box;box-shadow:-1px 0 1px rgba(0,0,0,0.08),1px 0 1px rgba(0,0,0,0.08);"></div>
<div class="a" style="left:930.6px;top:725px;width:151.6px;height:3px;background:#5bc0ee;"></div>
<div class="t" style="top:712px;font-size:11.9px;left:606.4px;width:800px;text-align:center;font-weight:bold;color:#1aabf0;">Executive Summary</div>
<div class="a" style="left:1082.7px;top:706.5px;width:77.8px;height:3.5px;background:#6cc5ee;border-radius:1.5px 1.5px 0 0;"></div>
<div class="a" style="left:1081.7px;top:706.5px;width:1px;height:20.8px;background:#cfcfcf;"></div>
<div class="t" style="top:712px;font-size:11.9px;left:721.77px;width:800px;text-align:center;color:#5b5b5b;letter-spacing:0.35px;">Visuals</div>
<div class="a" style="left:1161.5px;top:706.5px;width:97.6px;height:3.5px;background:#6cc5ee;border-radius:1.5px 1.5px 0 0;"></div>
<div class="a" style="left:1160.5px;top:706.5px;width:1px;height:20.8px;background:#cfcfcf;"></div>
<div class="t" style="top:712px;font-size:11.9px;left:810.47px;width:800px;text-align:center;color:#5b5b5b;letter-spacing:0.35px;">Break Even</div>
<div class="a" style="left:1260.1px;top:706.5px;width:109.4px;height:3.5px;background:#6cc5ee;border-radius:1.5px 1.5px 0 0;"></div>
<div class="a" style="left:1259.1px;top:706.5px;width:1px;height:20.8px;background:#cfcfcf;"></div>
<div class="t" style="left:1279.3px;top:712px;font-size:11.9px;color:#5b5b5b;width:90px;letter-spacing:0.35px;overflow:hidden;-webkit-mask-image:linear-gradient(90deg,#000 64%,rgba(0,0,0,0.3) 80%,transparent 97%);">Monthly Pro Forma</div>
<div class="a" style="left:1330px;top:706.5px;width:40px;height:3.5px;background:linear-gradient(90deg,rgba(239,239,239,0),#efefef);"></div>
<div class="a" style="left:1369.5px;top:706.5px;width:1px;height:20.8px;background:#cfcfcf;"></div>
<div class="a" style="left:1408px;top:706.5px;width:1px;height:20.8px;background:#cfcfcf;"></div>
<div class="a" style="left:1385px;top:718.2px;width:10.5px;height:1.8px;background:#4a4a4a;"></div>
<div class="a" style="left:1389.35px;top:713.8px;width:1.8px;height:10.5px;background:#4a4a4a;"></div>
</body></html>
